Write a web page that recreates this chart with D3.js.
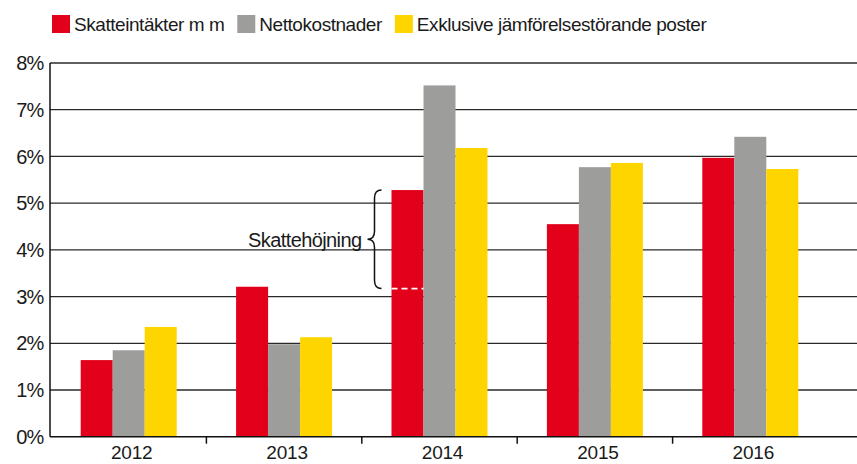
<!DOCTYPE html>
<html>
<head>
<meta charset="utf-8">
<script src="https://cdn.jsdelivr.net/npm/d3@7"></script>
<style>
    body { margin: 0; background: #fff; }
    text { font-family: "Liberation Sans", Arial, sans-serif; fill: #1a1a1a; }
</style>
</head>
<body>
<div id="chart"></div>
<script>
    // data
    let years = ["2012", "2013", "2014", "2015", "2016"];
    let series = ["Skatteintäkter m m", "Nettokostnader", "Exklusive jämförelsestörande poster"];
    let skatteintakter = [1.64, 3.21, 5.28, 4.55, 5.97];
    let nettokostnader = [1.85, 1.98, 7.52, 5.77, 6.42];
    let exklusive = [2.35, 2.13, 6.18, 5.86, 5.73];
    let yTicks = [0, 1, 2, 3, 4, 5, 6, 7, 8];
    // brace annotation for 2014 (from, to)
    let skattehojning = [3.17, 5.28];
    let colors = ["#E2001A", "#9D9D9C", "#FFD500"];

    let values = [skatteintakter, nettokostnader, exklusive];
    let data = years.map((yr, i) => ({
        year: yr,
        vals: series.map((s, j) => ({ key: s, value: values[j][i], color: colors[j] }))
    }));

    let width = 857, height = 464;
    let plotLeft = 50, plotRight = 857;

    let svg = d3.select("#chart")
        .append("svg")
        .attr("width", width)
        .attr("height", height);

    let y = d3.scaleLinear()
        .domain([0, 8])
        .range([436.7, 63]);

    let x0 = d3.scaleBand()
        .domain(years)
        .range([51, 828]);

    let groupW = 96;
    let x1 = d3.scaleBand()
        .domain(series)
        .range([0, groupW]);

    // horizontal grid
    svg.append("g")
        .selectAll("line")
        .data(yTicks.filter(d => d > 0))
        .join("line")
        .attr("x1", plotLeft)
        .attr("x2", plotRight)
        .attr("y1", d => y(d))
        .attr("y2", d => y(d))
        .attr("stroke", "#2a2a2a")
        .attr("stroke-width", 1.3);

    // y labels
    svg.append("g")
        .selectAll("text")
        .data(yTicks)
        .join("text")
        .attr("x", 43.5)
        .attr("y", d => y(d))
        .attr("dy", "0.36em")
        .attr("text-anchor", "end")
        .style("font-size", "20px")
        .style("letter-spacing", "-0.8px")
        .text(d => d + "%");

    // bars
    let groups = svg.append("g")
        .selectAll("g")
        .data(data)
        .join("g")
        .attr("transform", d => `translate(${x0(d.year) + (x0.bandwidth() - groupW) / 2},0)`);

    groups.selectAll("rect")
        .data(d => d.vals)
        .join("rect")
        .attr("x", d => x1(d.key))
        .attr("width", x1.bandwidth())
        .attr("y", d => y(d.value))
        .attr("height", d => y(0) - y(d.value))
        .attr("fill", d => d.color);

    // axes lines
    svg.append("line")
        .attr("x1", plotLeft).attr("x2", plotLeft)
        .attr("y1", y(8)).attr("y2", y(0))
        .attr("stroke", "#111").attr("stroke-width", 1.5);
    svg.append("line")
        .attr("x1", plotLeft).attr("x2", plotRight)
        .attr("y1", y(0)).attr("y2", y(0))
        .attr("stroke", "#111").attr("stroke-width", 1.5);

    // category separator ticks
    svg.append("g")
        .selectAll("line")
        .data(years.slice(1))
        .join("line")
        .attr("x1", d => x0(d))
        .attr("x2", d => x0(d))
        .attr("y1", y(0))
        .attr("y2", y(0) + 7)
        .attr("stroke", "#111")
        .attr("stroke-width", 1.5);

    // x labels
    svg.append("g")
        .selectAll("text")
        .data(years)
        .join("text")
        .attr("x", d => x0(d) + x0.bandwidth() / 2 + 3)
        .attr("y", 459)
        .attr("text-anchor", "middle")
        .style("font-size", "19px")
        .style("letter-spacing", "-0.2px")
        .text(d => d);

    // Skattehöjning annotation on 2014
    let redX = x0("2014") + (x0.bandwidth() - groupW) / 2 + x1(series[0]);
    svg.append("line")
        .attr("x1", redX)
        .attr("x2", redX + x1.bandwidth())
        .attr("y1", y(skattehojning[0]))
        .attr("y2", y(skattehojning[0]))
        .attr("stroke", "#fff")
        .attr("stroke-width", 1.6)
        .attr("stroke-dasharray", "6,4");

    let by1 = y(skattehojning[1]), by2 = y(skattehojning[0]);
    let bm = (by1 + by2) / 2;
    let bx = redX - 17, bw = 7;
    let bracePath = `M${bx + bw},${by1} Q${bx},${by1} ${bx},${by1 + 8} L${bx},${bm - 8} Q${bx},${bm} ${bx - bw},${bm}`
        + ` Q${bx},${bm} ${bx},${bm + 8} L${bx},${by2 - 8} Q${bx},${by2} ${bx + bw},${by2}`;
    svg.append("path")
        .attr("d", bracePath)
        .attr("fill", "none")
        .attr("stroke", "#111")
        .attr("stroke-width", 1.5);

    svg.append("text")
        .attr("x", bx - bw - 6)
        .attr("y", bm)
        .attr("dy", "0.36em")
        .attr("text-anchor", "end")
        .style("font-size", "20px")
        .style("letter-spacing", "-0.6px")
        .text("Skattehöjning");

    // legend
    let legend = svg.append("g");
    let lx = 52;
    series.forEach((s, i) => {
        legend.append("rect")
            .attr("x", lx)
            .attr("y", 15)
            .attr("width", 18)
            .attr("height", 18)
            .attr("fill", colors[i]);
        let t = legend.append("text")
            .attr("x", lx + 22)
            .attr("y", 24)
            .attr("dy", "0.36em")
            .style("font-size", "19px")
            .style("letter-spacing", "-0.45px")
            .text(s);
        lx = lx + 22 + t.node().getComputedTextLength() + 13;
    });
</script>
</body>
</html>
